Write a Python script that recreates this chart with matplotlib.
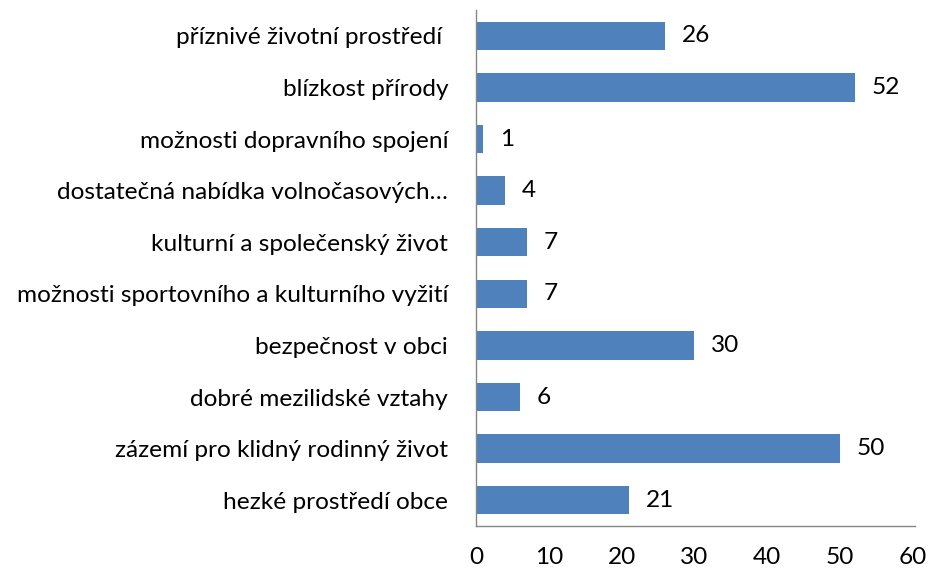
import matplotlib
matplotlib.use("Agg")
import matplotlib.pyplot as plt

categories = [
    "příznivé životní prostředí ",
    "blízkost přírody",
    "možnosti dopravního spojení",
    "dostatečná nabídka volnočasových…",
    "kulturní a společenský život",
    "možnosti sportovního a kulturního vyžití",
    "bezpečnost v obci",
    "dobré mezilidské vztahy",
    "zázemí pro klidný rodinný život",
    "hezké prostředí obce",
]
values = [26, 52, 1, 4, 7, 7, 30, 6, 50, 21]
xticks = [0, 10, 20, 30, 40, 50, 60]

plt.rcParams['font.family'] = ['Lato', 'DejaVu Sans']
fs = 17.6

fig = plt.figure(figsize=(9.3, 5.74), dpi=100)
ax = fig.add_axes([476/930, 48/574, 439/930, 516/574])

y = list(range(len(categories)))[::-1]
ax.barh(y, values, height=0.55, color="#4F81BD")
for yi, v in zip(y, values):
    ax.text(v + 2.3, yi, str(v), va="center", ha="left", fontsize=fs, color="black")

ax.set_xlim(0, 60.3)
ax.set_ylim(-0.5, len(categories) - 0.5)
ax.set_yticks(y)
ax.set_yticklabels(categories, fontsize=fs)
ax.set_xticks(xticks)
ax.set_xticklabels([str(t) for t in xticks], fontsize=fs)
ax.tick_params(axis="both", length=0)
ax.tick_params(axis="y", pad=20)
ax.tick_params(axis="x", pad=15)
for s in ["top", "right"]:
    ax.spines[s].set_visible(False)
for s in ["left", "bottom"]:
    ax.spines[s].set_color("#868686")
    ax.spines[s].set_linewidth(1.0)

fig.savefig("out.png", dpi=100)
